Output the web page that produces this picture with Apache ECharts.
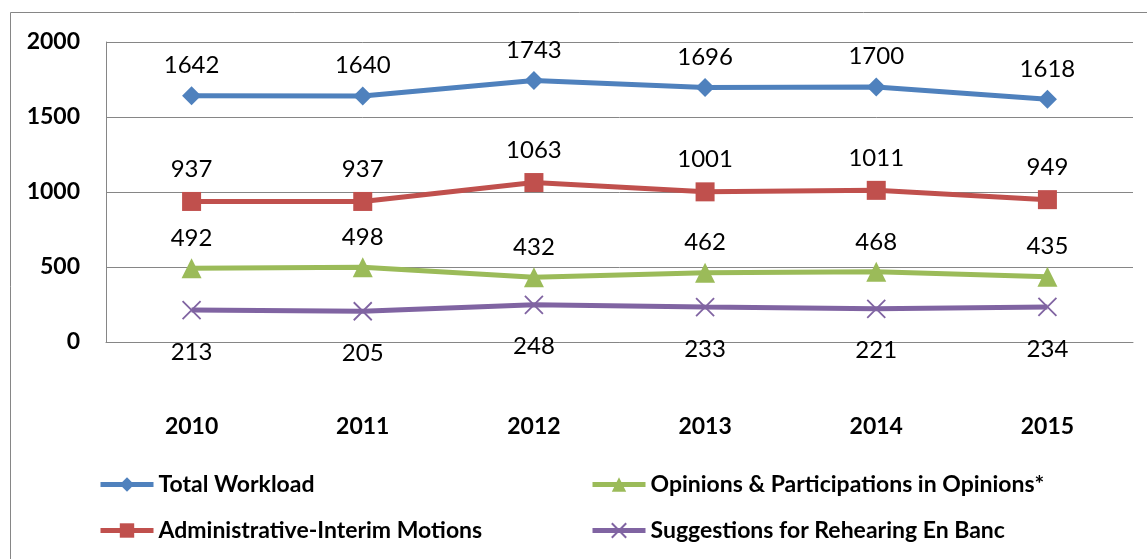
<!DOCTYPE html>
<html>
<head>
<meta charset="utf-8">
<script src="https://cdn.jsdelivr.net/npm/echarts@6/dist/echarts.min.js"></script>
<style>
  html, body { margin: 0; padding: 0; background: #fff; }
  #chart { width: 1147px; height: 559px; }
</style>
</head>
<body>
<div id="chart"></div>
<script>
var years = ['2010', '2011', '2012', '2013', '2014', '2015'];
var totalWorkload = [1642, 1640, 1743, 1696, 1700, 1618];
var adminMotions = [937, 937, 1063, 1001, 1011, 949];
var opinions = [492, 498, 432, 462, 468, 435];
var suggestions = [213, 205, 248, 233, 221, 234];
var yTicks = { min: 0, max: 2000, interval: 500 };

var chart = echarts.init(document.getElementById('chart'), null, { renderer: 'canvas' });

var font = 'Lato';
var crossPath = 'path://M0,0L10,10M10,0L0,10';

function lineSeries(name, data, color, symbol, size, labelPos, labelDist) {
  return {
    name: name,
    type: 'line',
    data: data,
    symbol: symbol,
    symbolSize: size,
    lineStyle: { color: color, width: 5 },
    itemStyle: { color: color },
    label: {
      show: true,
      position: labelPos,
      distance: labelDist,
      color: '#000',
      fontFamily: font,
      fontSize: 24
    },
    emphasis: { disabled: true },
    animation: false
  };
}

var suggSeries = lineSeries('Suggestions for Rehearing En Banc', suggestions, '#8064A2', crossPath, 18, 'bottom', 20);
suggSeries.itemStyle = { color: 'rgba(0,0,0,0)', borderColor: '#8064A2', borderWidth: 1.8 };

var legendText = { fontFamily: font, fontSize: 23, fontWeight: 'bold', color: '#000' };

function legendAt(left, names) {
  return {
    data: names,
    orient: 'vertical',
    left: left,
    top: 473,
    padding: 0,
    itemWidth: 53,
    itemHeight: 18,
    itemGap: 23,
    lineStyle: { width: 5 },
    textStyle: legendText
  };
}

var option = {
  backgroundColor: '#fff',
  graphic: [{
    type: 'rect',
    shape: { x: 10.5, y: 12.5, width: 1160, height: 600 },
    style: { fill: null, stroke: '#868686', lineWidth: 1 },
    silent: true
  }],
  grid: { left: 106, right: 14, top: 42, bottom: 217 },
  legend: [
    legendAt(98, ['Total Workload', 'Administrative-Interim Motions']),
    legendAt(590, ['Opinions & Participations in Opinions*', 'Suggestions for Rehearing En Banc'])
  ],
  xAxis: {
    type: 'category',
    data: years,
    boundaryGap: true,
    axisLine: { show: true, lineStyle: { color: '#868686', width: 1 } },
    axisTick: { show: false },
    axisLabel: {
      margin: 73,
      fontFamily: font,
      fontSize: 23,
      fontWeight: 'bold',
      color: '#000'
    }
  },
  yAxis: {
    type: 'value',
    min: yTicks.min,
    max: yTicks.max,
    interval: yTicks.interval,
    axisLine: { show: true, lineStyle: { color: '#868686', width: 1 } },
    axisTick: { show: false },
    splitLine: { show: true, lineStyle: { color: '#868686', width: 1 } },
    axisLabel: {
      margin: 26,
      fontFamily: font,
      fontSize: 23,
      fontWeight: 'bold',
      color: '#000',
      formatter: function (v) { return String(v); }
    }
  },
  series: [
    lineSeries('Total Workload', totalWorkload, '#4F81BD', 'diamond', 19, 'top', 9),
    lineSeries('Opinions & Participations in Opinions*', opinions, '#9BBB59', 'triangle', 20, 'top', 8),
    lineSeries('Administrative-Interim Motions', adminMotions, '#C0504D', 'rect', 19, 'top', 11),
    suggSeries
  ]
};

chart.setOption(option);
window.addEventListener('resize', chart.resize);
</script>
</body>
</html>
